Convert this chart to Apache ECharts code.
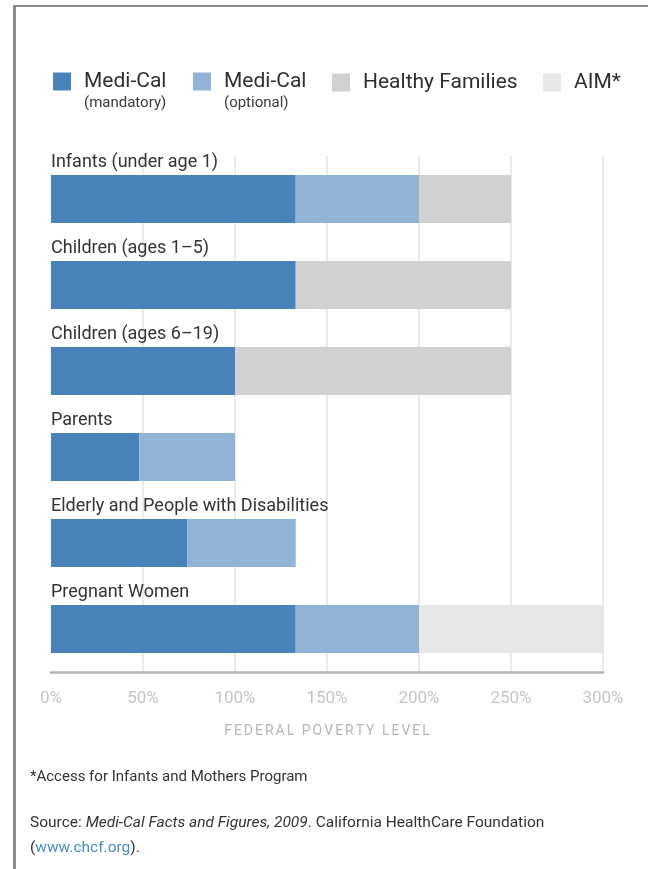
<!DOCTYPE html>
<html>
<head>
<meta charset="utf-8">
<script src="https://cdn.jsdelivr.net/npm/echarts@6/dist/echarts.min.js"></script>
<style>
  html, body { margin: 0; padding: 0; background: #fff; }
  #chart { position: absolute; left: 0; top: 0; width: 648px; height: 869px; }
  #frame {
    position: absolute; left: 13px; top: 5px; width: 640px; height: 870px;
    border-left: 3px solid #8b8b8d; border-top: 2px solid #8b8b8d;
    pointer-events: none;
  }
</style>
</head>
<body>
<div id="chart"></div>
<div id="frame"></div>
<script>
const categories = [
  'Infants (under age 1)',
  'Children (ages 1–5)',
  'Children (ages 6–19)',
  'Parents',
  'Elderly and People with Disabilities',
  'Pregnant Women'
];
// stacked pieces, % of federal poverty level
const mandatory = [133, 133, 100, 48, 74, 133];
const optional = [67, null, null, 52, 59, 67];
const healthyFamilies = [50, 117, 150, null, null, null];
const aim = [null, null, null, null, null, 100];

const seriesNames = ['Medi-Cal (mandatory)', 'Medi-Cal (optional)', 'Healthy Families', 'AIM*'];
const colors = ['#4884b9', '#91b4d6', '#d0d1d3', '#e6e7e9'];
const legendLeft = [53, 193, 332, 543];
const legendTop = [52, 52, 72, 72];
const axisTitle = 'FEDERAL POVERTY LEVEL';

const chart = echarts.init(document.getElementById('chart'));

const legendText = {
  'Medi-Cal (mandatory)': '{e|}\n{a|Medi-Cal}\n{b|(mandatory)}',
  'Medi-Cal (optional)': '{e|}\n{a|Medi-Cal}\n{b|(optional)}',
  'Healthy Families': '{a|Healthy Families}',
  'AIM*': '{a|AIM*}'
};

const legends = seriesNames.map((name, i) => ({
  data: [name],
  left: legendLeft[i],
  top: legendTop[i],
  padding: 0,
  icon: 'rect',
  itemWidth: 18,
  itemHeight: 18,
  selectedMode: false,
  formatter: n => legendText[n],
  textStyle: {
    padding: [0, 0, 0, 8],
    rich: {
      e: { fontSize: 15, lineHeight: 22 },
      a: { fontSize: 21, lineHeight: 22, color: '#2f2f2f', fontFamily: 'Roboto' },
      b: { fontSize: 15, lineHeight: 22, color: '#3a3a3a', fontFamily: 'Roboto' }
    }
  }
}));

const makeSeries = (name, data, idx) => ({
  name: name,
  type: 'bar',
  stack: 'fpl',
  barWidth: 48,
  data: data,
  itemStyle: { color: colors[idx] },
  emphasis: { disabled: true },
  label: idx === 0 ? {
    show: true,
    position: [0, -4],
    align: 'left',
    verticalAlign: 'bottom',
    formatter: p => p.name,
    color: '#333',
    fontSize: 18,
    fontFamily: 'Roboto'
  } : { show: false }
});

const option = {
  animation: false,
  textStyle: { fontFamily: 'Roboto' },
  legend: legends,
  grid: { left: 51, right: 45, top: 156, bottom: 197 },
  xAxis: {
    type: 'value',
    min: 0,
    max: 300,
    interval: 50,
    axisLine: { show: true, lineStyle: { color: '#b5b5b8', width: 2.5 } },
    axisTick: { show: false },
    splitLine: { show: true, showMinLine: false, lineStyle: { color: '#e3e3e3', width: 1.5 } },
    axisLabel: { formatter: '{value}%', color: '#c4c4c6', fontSize: 17, margin: 18 },
    // letters spaced out like the original
    name: axisTitle.split('').map(c => '{s|' + c + '}').join(''),
    nameLocation: 'middle',
    nameGap: 52,
    nameTextStyle: {
      rich: { s: { color: '#b6b6b8', fontSize: 14, padding: [0, 1, 0, 1] } }
    }
  },
  yAxis: {
    type: 'category',
    inverse: true,
    data: categories,
    axisLine: { show: false },
    axisTick: { show: false },
    axisLabel: { show: false },
    splitLine: { show: false }
  },
  series: [
    makeSeries(seriesNames[0], mandatory, 0),
    makeSeries(seriesNames[1], optional, 1),
    makeSeries(seriesNames[2], healthyFamilies, 2),
    makeSeries(seriesNames[3], aim, 3)
  ],
  title: [
    {
      text: '*Access for Infants and Mothers Program',
      left: 25,
      top: 765,
      textStyle: { fontSize: 15, fontWeight: 'normal', color: '#333' }
    },
    {
      text: '{n|Source: }{i|Medi-Cal Facts and Figures, 2009}{n|. California HealthCare Foundation}\n{n|(}{l|www.chcf.org}{n|).}',
      left: 25,
      top: 806,
      textStyle: {
        fontWeight: 'normal',
        rich: {
          n: { fontSize: 15.5, color: '#333', lineHeight: 25 },
          i: { fontSize: 15.5, color: '#333', fontStyle: 'italic', lineHeight: 25 },
          l: { fontSize: 15.5, color: '#4a8ac6', lineHeight: 25 }
        }
      }
    }
  ]
};

chart.setOption(option);
</script>
</body>
</html>
